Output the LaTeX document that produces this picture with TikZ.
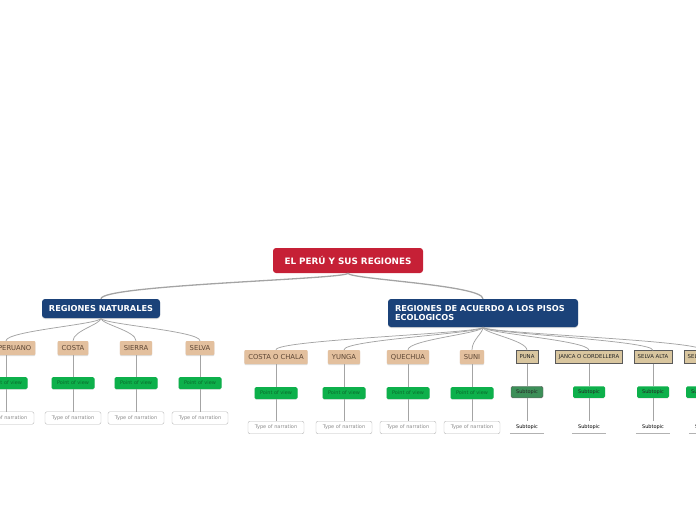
\documentclass[tikz,border=0pt]{standalone}
\usepackage{fontspec}
\setmainfont{DejaVu Sans}
\usetikzlibrary{shadows}

\definecolor{rootred}{HTML}{C62036}
\definecolor{mainblue}{HTML}{1B4279}
\definecolor{peach}{HTML}{E3C09E}
\definecolor{peachtext}{HTML}{5E4735}
\definecolor{sand}{HTML}{D9C69F}
\definecolor{leafgreen}{HTML}{0DB04B}
\definecolor{viewtext}{HTML}{0A6A2C}
\definecolor{darkgreen}{HTML}{3C8F58}
\definecolor{linegray}{HTML}{A4A4A4}

\begin{document}
\begin{tikzpicture}[x=1pt,y=-1pt]

                \tikzset{root/.style = {fill=rootred, rounded corners=3pt, text=white, font=\fontsize{8.8}{10}\selectfont\bfseries, minimum width=150pt, minimum height=25pt}}
                \tikzset{main/.style = {fill=mainblue, rounded corners=3pt, text=white, font=\fontsize{8.2}{9}\selectfont\bfseries, minimum height=19pt, drop shadow={shadow xshift=0pt, shadow yshift=-1pt, fill=black!30}}}
                \tikzset{topic/.style = {fill=peach, text=peachtext, rounded corners=1pt, font=\fontsize{6.8}{7.8}\selectfont, minimum height=14pt, inner xsep=4pt, drop shadow={shadow xshift=0pt, shadow yshift=-1pt, fill=black!25}}}
                \tikzset{floor/.style = {fill=sand, draw=gray!70!black, text=black!85, font=\fontsize{5.4}{6.4}\selectfont, minimum height=13pt, inner xsep=3.5pt}}
                \tikzset{view/.style = {fill=leafgreen, text=viewtext, rounded corners=1.5pt, font=\fontsize{5}{6}\selectfont, minimum width=43pt, minimum height=12pt, drop shadow={shadow xshift=0pt, shadow yshift=-0.8pt, fill=black!20}}}
                \tikzset{narr/.style = {draw=gray!55, fill=white, text=gray!90, rounded corners=2pt, font=\fontsize{5}{6}\selectfont, minimum width=56pt, minimum height=12.5pt}}
                \tikzset{sub/.style = {fill=leafgreen, text=black!85, rounded corners=1.5pt, font=\fontsize{5}{6}\selectfont, minimum width=32pt, minimum height=11pt, drop shadow={shadow xshift=0pt, shadow yshift=-0.8pt, fill=black!20}}}
                \tikzset{subsel/.style = {sub, fill=darkgreen, draw=black!60}}
                \tikzset{leaf/.style = {text=black, font=\fontsize{5}{6}\selectfont, minimum width=34pt, minimum height=10pt}}
                \tikzset{trunk/.style = {draw=linegray, line width=1.3pt}}
                \tikzset{branch/.style = {draw=linegray, line width=0.75pt}}
                \tikzset{twig/.style = {draw=linegray, line width=0.6pt}}
                \tikzset{uline/.style = {draw=gray!60, line width=0.6pt}}

                \useasboundingbox (0,0) rectangle (696,520);

                % centre and the two groups
                \node[root] (peru) at (348,260.5) {EL PERÚ Y SUS REGIONES};
                \node[main, minimum width=118pt] (nat) at (101,308.5) {REGIONES NATURALES};
                \node[main, minimum width=190pt, minimum height=28pt, text width=176pt, align=left] (pisos) at (483,313) {REGIONES DE ACUERDO A LOS PISOS\\ECOLOGICOS};

                \draw[trunk] (peru.south) .. controls +(0,6) and +(0,-14) .. (nat.north);
                \draw[trunk] (peru.south) .. controls +(0,6) and +(0,-14) .. (pisos.north);

                % regiones naturales
                \node[topic] (mar) at (6,348) {MAR PERUANO};
                \node[topic] (costa) at (73,348) {COSTA};
                \node[topic] (sierra) at (136,348) {SIERRA};
                \node[topic] (selva) at (200,348) {SELVA};

                \node[view] (marv) at (6,383) {Point of view};
                \node[view] (costav) at (73,383) {Point of view};
                \node[view] (sierrav) at (136,383) {Point of view};
                \node[view] (selvav) at (200,383) {Point of view};

                \node[narr] (marn) at (6,418) {Type of narration};
                \node[narr] (costan) at (73,418) {Type of narration};
                \node[narr] (sierran) at (136,418) {Type of narration};
                \node[narr] (selvan) at (200,418) {Type of narration};

                \draw[branch] (nat.south) .. controls +(0,6) and +(0,-10) .. (mar.north);
                \draw[branch] (nat.south) .. controls +(0,6) and +(0,-10) .. (costa.north);
                \draw[branch] (nat.south) .. controls +(0,6) and +(0,-10) .. (sierra.north);
                \draw[branch] (nat.south) .. controls +(0,6) and +(0,-10) .. (selva.north);

                \draw[twig] (mar) -- (marv);
                \draw[twig] (costa) -- (costav);
                \draw[twig] (sierra) -- (sierrav);
                \draw[twig] (selva) -- (selvav);
                \draw[twig] (marv) -- (marn);
                \draw[twig] (costav) -- (costan);
                \draw[twig] (sierrav) -- (sierran);
                \draw[twig] (selvav) -- (selvan);

                % pisos ecologicos
                \node[topic] (chala) at (276,357) {COSTA O CHALA};
                \node[topic] (yunga) at (344,357) {YUNGA};
                \node[topic] (quechua) at (408,357) {QUECHUA};
                \node[topic] (suni) at (472,357) {SUNI};
                \node[floor] (puna) at (527,357) {PUNA};
                \node[floor] (janca) at (589,357) {JANCA O CORDELLERA};
                \node[floor] (alta) at (653,357) {SELVA ALTA};
                \node[floor] (baja) at (703,357) {SELVA BAJA};

                \node[view] (chalav) at (276,393) {Point of view};
                \node[view] (yungav) at (344,393) {Point of view};
                \node[view] (quechuav) at (408,393) {Point of view};
                \node[view] (suniv) at (472,393) {Point of view};
                \node[subsel] (punas) at (527,392) {Subtopic};
                \node[sub] (jancas) at (589,392) {Subtopic};
                \node[sub] (altas) at (653,392) {Subtopic};
                \node[sub] (bajas) at (702,392) {Subtopic};

                \node[narr] (chalan) at (276,427.5) {Type of narration};
                \node[narr] (yungan) at (344,427.5) {Type of narration};
                \node[narr] (quechuan) at (408,427.5) {Type of narration};
                \node[narr] (sunin) at (472,427.5) {Type of narration};
                \node[leaf] (punal) at (527,427) {Subtopic};
                \node[leaf] (jancal) at (589,427) {Subtopic};
                \node[leaf] (altal) at (653,427) {Subtopic};
                \node[leaf] (bajal) at (706,427) {Subtopic};

                \draw[branch] (pisos.south) .. controls +(0,6) and +(0,-10) .. (chala.north);
                \draw[branch] (pisos.south) .. controls +(0,6) and +(0,-10) .. (yunga.north);
                \draw[branch] (pisos.south) .. controls +(0,6) and +(0,-10) .. (quechua.north);
                \draw[branch] (pisos.south) .. controls +(0,6) and +(0,-10) .. (suni.north);
                \draw[branch] (pisos.south) .. controls +(0,6) and +(0,-10) .. (puna.north);
                \draw[branch] (pisos.south) .. controls +(0,6) and +(0,-10) .. (janca.north);
                \draw[branch] (pisos.south) .. controls +(0,6) and +(0,-10) .. (alta.north);
                \draw[branch] (pisos.south) .. controls +(0,6) and +(0,-10) .. (baja.north);

                \draw[twig] (chala) -- (chalav);
                \draw[twig] (yunga) -- (yungav);
                \draw[twig] (quechua) -- (quechuav);
                \draw[twig] (suni) -- (suniv);
                \draw[twig] (puna) -- (punas);
                \draw[twig] (janca) -- (jancas);
                \draw[twig] (alta) -- (altas);
                \draw[twig] (baja) -- (bajas);
                \draw[twig] (chalav) -- (chalan);
                \draw[twig] (yungav) -- (yungan);
                \draw[twig] (quechuav) -- (quechuan);
                \draw[twig] (suniv) -- (sunin);
                \draw[twig] (punas) -- (punal);
                \draw[twig] (jancas) -- (jancal);
                \draw[twig] (altas) -- (altal);
                \draw[twig] (bajas) -- (bajal);

                \draw[uline] (punal.south west) -- (punal.south east);
                \draw[uline] (jancal.south west) -- (jancal.south east);
                \draw[uline] (altal.south west) -- (altal.south east);
                \draw[uline] (bajal.south west) -- (bajal.south east);

        \end{tikzpicture}
\end{document}
